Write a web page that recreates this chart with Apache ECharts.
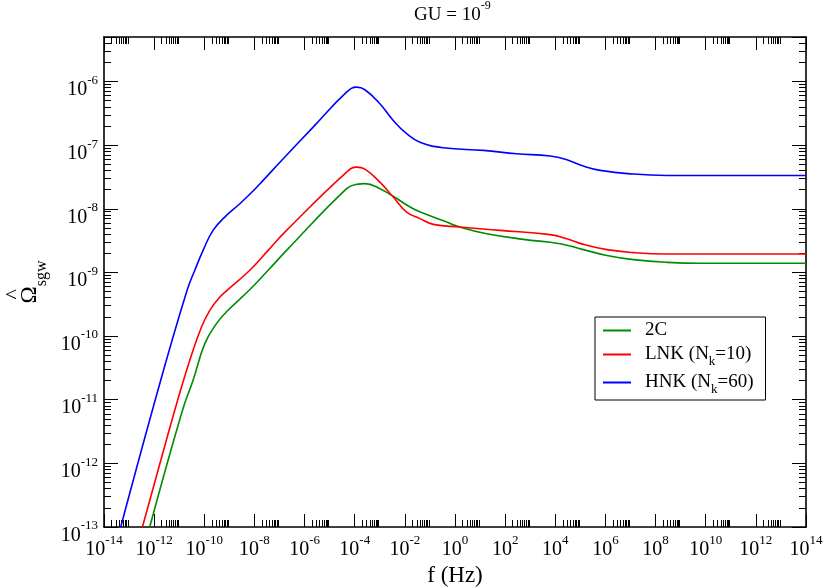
<!DOCTYPE html>
<html>
<head>
<meta charset="utf-8">
<script src="https://cdn.jsdelivr.net/npm/echarts@6/dist/echarts.min.js"></script>
<style>html,body{margin:0;padding:0;background:#fff}#c{width:825px;height:588px}</style>
</head>
<body>
<div id="c"></div>
<script>
// ---------------- data ----------------
const seriesNames = ['2C', 'LNK (Nk=10)', 'HNK (Nk=60)'];
const legendLabels = ['{n|2C}', '{n|LNK (N}{sub|k}{n|=10)}', '{n|HNK (N}{sub|k}{n|=60)}'];

const freq2C = [6.67e-13, 1.35e-11, 3.57e-11, 1.05e-10, 3.07e-10, 8.91e-10, 6.14e-9, 3.52e-8, 1.91e-7,
  4.75e-5, 1.19e-4, 2.55e-4, 1.01e-3, 3.44e-3, 2.16e-2, 0.136, 0.467, 1.58, 18.4, 532,
  1.56e4, 1.32e5, 1.14e6, 1.31e7, 2.82e8, 6.03e9, 1e14];
const omega2C = [1.0e-13, 6.84e-12, 2.02e-11, 7.62e-11, 1.57e-10, 2.54e-10, 5.24e-10, 1.08e-9, 2.22e-9,
  2.07e-8, 2.42e-8, 2.48e-8, 2.07e-8, 1.57e-8, 1.00e-8, 7.41e-9, 6.18e-9, 5.16e-9, 4.06e-9, 3.31e-9,
  2.83e-9, 2.28e-9, 1.85e-9, 1.59e-9, 1.44e-9, 1.39e-9, 1.39e-9];

const freqLNK = [3.41e-13, 6.64e-12, 2.64e-11, 7.73e-11, 1.66e-10, 4.17e-10, 8.13e-10, 6.55e-9, 3.52e-8,
  1.91e-7, 4.75e-5, 1.19e-4, 2.55e-4, 1.01e-3, 3.44e-3, 1.18e-2, 4.00e-2, 0.136, 1.58, 62.5,
  6.19e3, 2.88e4, 1.32e5, 1.14e6, 1.31e7, 2.82e8, 1e14];
const omegaLNK = [1.0e-13, 6.84e-12, 4.17e-11, 1.39e-10, 2.54e-10, 4.11e-10, 5.24e-10, 1.08e-9, 2.22e-9,
  4.58e-9, 3.77e-8, 4.52e-8, 4.20e-8, 2.62e-8, 1.53e-8, 8.87e-9, 7.00e-9, 5.69e-9, 5.16e-9, 4.58e-9,
  3.92e-9, 3.39e-9, 2.76e-9, 2.28e-9, 2.05e-9, 1.95e-9, 1.95e-9];

const freqHNK = [4.65e-14, 1.83e-12, 2.06e-11, 4.18e-11, 8.96e-11, 2.24e-10, 7.69e-10, 2.61e-9, 7.66e-9,
  2.22e-8, 1.21e-7, 2.20e-6, 4.75e-5, 1.19e-4, 2.55e-4, 1.01e-3, 3.44e-3, 1.18e-2, 4.00e-2, 0.341, 13.5,
  290, 6.19e3, 2.88e4, 1.32e5, 6.14e5, 1.31e7, 2.82e8, 1e14];
const omegaHNK = [1.0e-13, 2.02e-11, 5.24e-10, 1.08e-9, 2.22e-9, 4.58e-9, 7.87e-9, 1.20e-8, 1.80e-8,
  2.79e-8, 5.75e-8, 1.92e-7, 6.79e-7, 8.15e-7, 7.41e-7, 4.47e-7, 2.44e-7, 1.51e-7, 1.11e-7, 9.10e-8, 8.26e-8,
  7.33e-8, 6.73e-8, 5.89e-8, 4.69e-8, 4.01e-8, 3.51e-8, 3.34e-8, 3.34e-8];

const xTickValues = [1e-14, 1e-12, 1e-10, 1e-8, 1e-6, 1e-4, 1e-2, 1e0, 1e2, 1e4, 1e6, 1e8, 1e10, 1e12, 1e14];
const yTickValues = [1e-13, 1e-12, 1e-11, 1e-10, 1e-9, 1e-8, 1e-7, 1e-6];
const xMin = 1e-14, xMax = 1e14, yMin = 1e-13, yMax = 5e-6;

// ---------------- style ----------------
const FONT = '"Liberation Serif", "DejaVu Serif", "Times New Roman", serif';
const colors = ['#008c00', '#ff0000', '#0000ff'];

// minor tick positions (2..9 x decade)
const xMinor = [];
for (let e = -14; e < 14; e += 2) for (let m = 2; m <= 9; m++) xMinor.push(m * Math.pow(10, e));
const yMinor = [];
for (let e = -13; e <= -6; e++) for (let m = 2; m <= 9; m++) { const v = m * Math.pow(10, e); if (v < yMax) yMinor.push(v); }

function inList(v, list) {
  return list.some(t => Math.abs(Math.log10(v) - Math.log10(t)) < 1e-6);
}
function powLabel(list) {
  return function (v) {
    if (!inList(v, list)) return '';
    return '{b|10}{sup|' + Math.round(Math.log10(v)) + '}';
  };
}
const labelRich = {
  b: { fontFamily: FONT, fontSize: 20, lineHeight: 20, fontWeight: 'normal', color: '#000', verticalAlign: 'top', padding: [6, 0, 0, 0] },
  sup: { fontFamily: FONT, fontSize: 13, lineHeight: 13, fontWeight: 'normal', color: '#000', verticalAlign: 'top' }
};
const lineStyle = { color: '#000', width: 1.6 };

function xAxisDef(pos, minor) {
  return {
    type: 'log', logBase: 10, min: xMin, max: xMax, interval: 2, position: pos, gridIndex: 0,
    axisLine: { show: !minor, onZero: false, lineStyle: lineStyle },
    axisTick: minor
      ? { show: true, inside: true, length: 7, lineStyle: { color: '#000', width: 1 }, customValues: xMinor }
      : { show: true, inside: true, length: 13, lineStyle: { color: '#000', width: 1 } },
    minorTick: { show: false },
    splitLine: { show: false },
    axisLabel: (pos === 'bottom' && !minor)
      ? { show: true, margin: 7, formatter: powLabel(xTickValues), rich: labelRich }
      : { show: false },
    name: (pos === 'bottom' && !minor) ? 'f (Hz)' : '',
    nameLocation: 'middle', nameGap: 34,
    nameTextStyle: { fontFamily: FONT, fontSize: 23, color: '#000' }
  };
}
function yAxisDef(pos, minor) {
  return {
    type: 'log', logBase: 10, min: yMin, max: yMax, interval: 1, position: pos, gridIndex: 0,
    axisLine: { show: !minor, onZero: false, lineStyle: lineStyle },
    axisTick: minor
      ? { show: true, inside: true, length: 7, lineStyle: { color: '#000', width: 1 }, customValues: yMinor }
      : { show: true, inside: true, length: 14, lineStyle: { color: '#000', width: 1 } },
    minorTick: { show: false },
    splitLine: { show: false },
    axisLabel: (pos === 'left' && !minor)
      ? { show: true, margin: 6, padding: [5, 0, 0, 0], formatter: powLabel(yTickValues), rich: labelRich }
      : { show: false },
    name: (pos === 'left' && !minor) ? '{h|^}\n{o|Ω}{s|sgw}' : '',
    nameLocation: 'middle', nameRotate: 90, nameGap: 53,
    nameTextStyle: {
      rich: {
        h: { fontFamily: FONT, fontSize: 22, lineHeight: 10, color: '#000', align: 'left', padding: [0, 0, 0, 4] },
        o: { fontFamily: FONT, fontSize: 23, lineHeight: 23, color: '#000', verticalAlign: 'top', align: 'left' },
        s: { fontFamily: FONT, fontSize: 16, lineHeight: 16, color: '#000', verticalAlign: 'top', align: 'left', padding: [15, 0, 0, 0] }
      }
    }
  };
}

function pairs(fs, os) { return fs.map((f, i) => [f, os[i]]); }
const seriesData = [pairs(freq2C, omega2C), pairs(freqLNK, omegaLNK), pairs(freqHNK, omegaHNK)];

const chart = echarts.init(document.getElementById('c'), null, { renderer: 'canvas' });
chart.setOption({
  animation: false,
  backgroundColor: '#fff',
  title: {
    text: '{b|GU = 10}{sup|-9}', left: 414, top: 0, padding: 0,
    textStyle: {
      fontWeight: 'normal',
      rich: {
        b: { fontFamily: FONT, fontSize: 19, lineHeight: 19, fontWeight: 'normal', color: '#000', verticalAlign: 'top', padding: [6, 0, 0, 0] },
        sup: { fontFamily: FONT, fontSize: 12, lineHeight: 12, fontWeight: 'normal', color: '#000', verticalAlign: 'top' }
      }
    }
  },
  grid: { left: 104, top: 37, width: 702, height: 490, containLabel: false, outerBoundsMode: 'none' },
  xAxis: [xAxisDef('bottom', false), xAxisDef('top', false), xAxisDef('bottom', true), xAxisDef('top', true)],
  yAxis: [yAxisDef('left', false), yAxisDef('right', false), yAxisDef('left', true), yAxisDef('right', true)],
  legend: {
    orient: 'vertical', left: 595, top: 317,
    padding: [4, 12, 4, 8], itemGap: 5, itemWidth: 28, itemHeight: 2, icon: 'rect',
    borderColor: '#000', borderWidth: 1, borderRadius: 0, backgroundColor: '#fff',
    data: seriesNames,
    formatter: function (name) { return legendLabels[seriesNames.indexOf(name)]; },
    textStyle: {
      padding: [0, 0, 0, 9],
      rich: {
        n: { fontFamily: FONT, fontSize: 19, lineHeight: 19, color: '#000', verticalAlign: 'top' },
        sub: { fontFamily: FONT, fontSize: 13, lineHeight: 13, color: '#000', verticalAlign: 'top', padding: [10, 0, 0, 0] }
      }
    }
  },
  series: seriesNames.map((name, i) => ({
    name: name, type: 'line', xAxisIndex: 0, yAxisIndex: 0,
    data: seriesData[i], showSymbol: false, symbol: 'none',
    smooth: 0.45, clip: true,
    color: colors[i],
    lineStyle: { color: colors[i], width: 1.6 },
    itemStyle: { color: colors[i] }
  }))
});
</script>
</body>
</html>
